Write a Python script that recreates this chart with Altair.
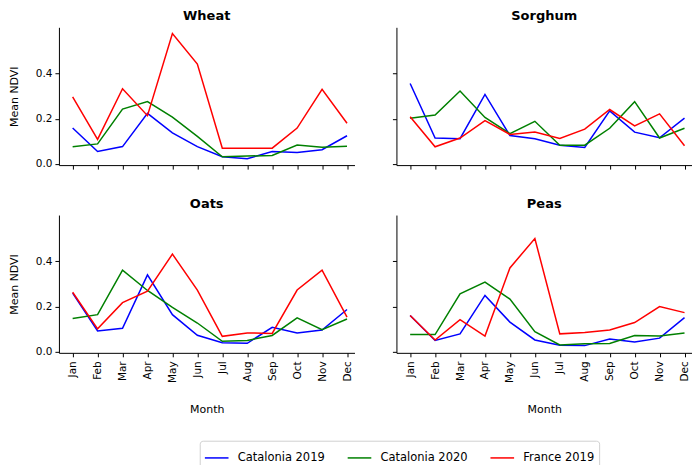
import altair as alt
import pandas as pd

months = ["Jan", "Feb", "Mar", "Apr", "May", "Jun", "Jul", "Aug", "Sep", "Oct", "Nov", "Dec"]
series_names = ["Catalonia 2019", "Catalonia 2020", "France 2019"]
series_colors = ["#0000ff", "#008000", "#ff0000"]
crops = ["Wheat", "Sorghum", "Oats", "Peas"]

wheat_cat19 = [0.159, 0.055, 0.077, 0.224, 0.138, 0.077, 0.032, 0.023, 0.055, 0.051, 0.063, 0.125]
wheat_cat20 = [0.076, 0.089, 0.243, 0.276, 0.207, 0.122, 0.032, 0.035, 0.038, 0.084, 0.074, 0.079]
wheat_fr19 = [0.297, 0.109, 0.333, 0.214, 0.577, 0.442, 0.070, 0.070, 0.070, 0.159, 0.330, 0.180]

sorghum_cat19 = [0.356, 0.115, 0.112, 0.308, 0.126, 0.112, 0.083, 0.073, 0.235, 0.141, 0.116, 0.203]
sorghum_cat20 = [0.202, 0.217, 0.323, 0.206, 0.134, 0.189, 0.083, 0.083, 0.158, 0.276, 0.115, 0.158]
sorghum_fr19 = [0.209, 0.076, 0.115, 0.192, 0.131, 0.141, 0.113, 0.154, 0.241, 0.169, 0.222, 0.081]

oats_cat19 = [0.259, 0.092, 0.104, 0.340, 0.164, 0.073, 0.040, 0.037, 0.108, 0.083, 0.096, 0.187]
oats_cat20 = [0.147, 0.164, 0.361, 0.271, 0.196, 0.127, 0.046, 0.050, 0.072, 0.150, 0.098, 0.145]
oats_fr19 = [0.263, 0.101, 0.217, 0.268, 0.432, 0.273, 0.068, 0.083, 0.081, 0.273, 0.361, 0.153]

peas_cat19 = [0.160, 0.050, 0.079, 0.249, 0.131, 0.052, 0.029, 0.027, 0.056, 0.043, 0.060, 0.151]
peas_cat20 = [0.076, 0.076, 0.256, 0.308, 0.233, 0.089, 0.030, 0.035, 0.036, 0.072, 0.069, 0.083]
peas_fr19 = [0.160, 0.052, 0.142, 0.069, 0.371, 0.501, 0.079, 0.085, 0.096, 0.129, 0.200, 0.173]

data = {
    "Wheat": [wheat_cat19, wheat_cat20, wheat_fr19],
    "Sorghum": [sorghum_cat19, sorghum_cat20, sorghum_fr19],
    "Oats": [oats_cat19, oats_cat20, oats_fr19],
    "Peas": [peas_cat19, peas_cat20, peas_fr19],
}

rows = []
for crop in crops:
    for name, vals in zip(series_names, data[crop]):
        for i, (m, v) in enumerate(zip(months, vals)):
            rows.append({"crop": crop, "series": name, "month": m, "idx": i, "value": v})
df = pd.DataFrame(rows)

FONT = "DejaVu Sans"
month_expr = "[" + ",".join("'%s'" % m for m in months) + "][datum.value]"


def panel(crop, show_x, show_y):
    return (
        alt.Chart(df[df["crop"] == crop])
        .mark_line(strokeWidth=1.5)
        .encode(
            x=alt.X(
                "idx:Q",
                scale=alt.Scale(domain=[-0.55, 11.3], nice=False, zero=False),
                axis=alt.Axis(
                    values=list(range(12)),
                    labelExpr=month_expr,
                    labels=show_x,
                    title="Month" if show_x else None,
                    labelAngle=270,
                    labelAlign="right",
                    labelBaseline="middle",
                    labelPadding=4,
                    titlePadding=21,
                    labelFlush=False,
                    labelOverlap=False,
                ),
            ),
            y=alt.Y(
                "value:Q",
                scale=alt.Scale(domain=[-0.005, 0.605], nice=False, zero=False),
                axis=alt.Axis(
                    values=[0, 0.2, 0.4],
                    format=".1f",
                    labels=show_y,
                    title="Mean NDVI" if show_y else None,
                    labelPadding=3,
                    titlePadding=16,
                ),
            ),
            color=alt.Color(
                "series:N",
                scale=alt.Scale(domain=series_names, range=series_colors),
                legend=alt.Legend(
                    title=None,
                    orient="none",
                    direction="horizontal",
                    legendX=141,
                    legendY=414,
                    symbolType="stroke",
                    symbolSize=560,
                    symbolStrokeWidth=1.5,
                    labelFontSize=11.5,
                    labelFont=FONT,
                    labelColor="#000000",
                    labelOffset=8,
                    columnPadding=19,
                    padding=4,
                    strokeColor="#d0d0d0",
                    fillColor="#ffffff",
                    cornerRadius=3,
                ),
            ),
        )
        .properties(
            width=296,
            height=138,
            title=alt.TitleParams(crop, fontWeight="bold", fontSize=13, font=FONT, offset=4),
        )
    )


top = alt.hconcat(panel("Wheat", False, True), panel("Sorghum", False, False), spacing=37)
bottom = alt.hconcat(panel("Oats", True, True), panel("Peas", True, False), spacing=37)

chart = (
    alt.vconcat(top, bottom, spacing=28)
    .properties(padding={"left": 0, "top": 2, "right": 0, "bottom": 0})
    .configure_view(stroke=None)
    .configure_axis(
        grid=False,
        domainColor="#000000",
        tickColor="#000000",
        labelColor="#000000",
        titleColor="#000000",
        tickSize=4,
        labelFont=FONT,
        labelFontSize=10.5,
        titleFont=FONT,
        titleFontSize=11,
        titleFontWeight="normal",
    )
    .configure_title(anchor="middle", color="#000000")
)

chart.save("out.html", embed_options={"renderer": "svg", "actions": False})
